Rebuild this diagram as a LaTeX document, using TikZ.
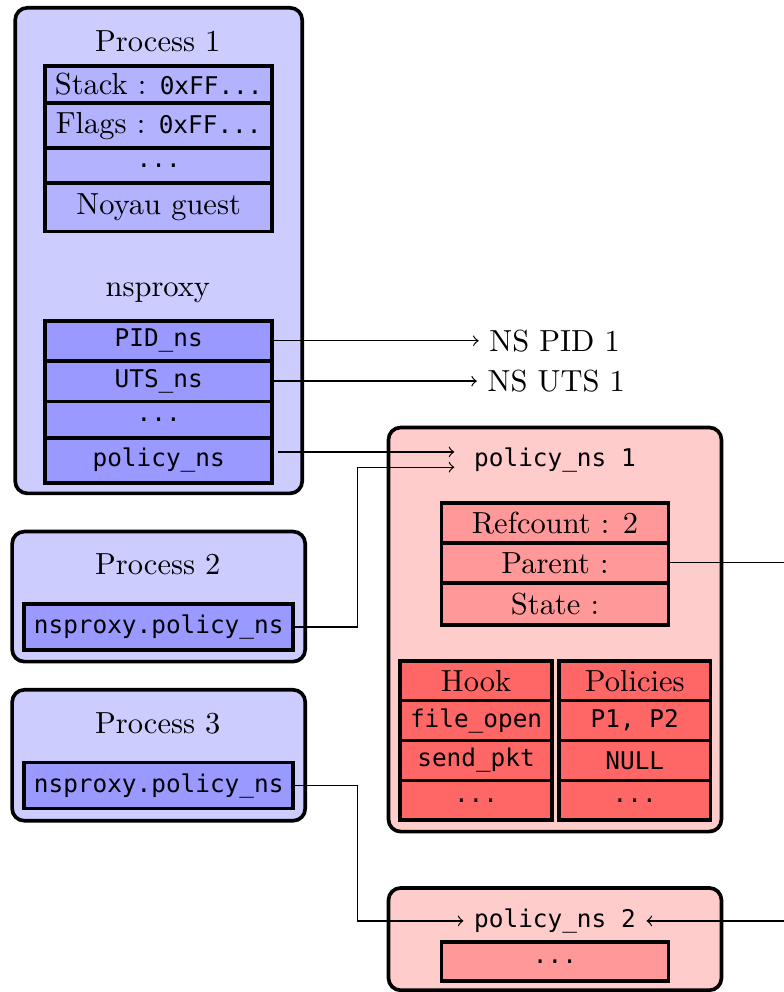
\documentclass[tikz,border=0pt]{standalone}
\usepackage{fontspec}
\setmonofont[Scale=0.8]{DejaVu Sans Mono}
\usetikzlibrary{positioning}

\tikzset{
  procbox/.style={draw, very thick, rounded corners, fill=blue!20},
  polbox/.style={draw, very thick, rounded corners, fill=red!20},
  cell/.style={draw, very thick, outer sep=0pt, inner sep=0pt},
  pcell/.style={cell, fill=blue!30, minimum width=2.62cm},
  nscell/.style={cell, fill=blue!40, minimum width=2.62cm},
  rcell/.style={cell, fill=red!40, minimum width=2.62cm},
  hcell/.style={cell, fill=red!60, minimum width=1.75cm, minimum height=0.46cm}
}

\begin{document}
\begin{tikzpicture}
\useasboundingbox (0,0) rectangle (9.04,-11.44);

% process 1
\node[procbox, minimum width=3.31cm, minimum height=5.60cm] (p1) at (1.83,-2.89) {};
\node (p1t) at (1.82,-0.48) {Process 1};
\node[pcell, minimum height=0.43cm, anchor=north] (stack) at (1.83,-0.76) {Stack : \texttt{0xFF...}};
\node[pcell, minimum height=0.52cm, below=0pt of stack] (flags) {Flags : \texttt{0xFF...}};
\node[pcell, minimum height=0.40cm, below=0pt of flags] (pdots) {\texttt{...}};
\node[pcell, minimum height=0.56cm, below=0pt of pdots] (kern) {Noyau guest};

\node (nsp) at (1.82,-3.38) {nsproxy};
\node[nscell, minimum height=0.46cm, anchor=north] (pid) at (1.83,-3.70) {\texttt{PID\_ns}};
\node[nscell, minimum height=0.47cm, below=0pt of pid] (uts) {\texttt{UTS\_ns}};
\node[nscell, minimum height=0.42cm, below=0pt of uts] (nsdots) {\texttt{...}};
\node[nscell, minimum height=0.52cm, below=0pt of nsdots] (pol) {\texttt{policy\_ns}};

\node[right=2.38cm of pid] (nspid) {NS PID 1};
\node[right=2.36cm of uts] (nsuts) {NS UTS 1};

% process 2 et 3
\node[procbox, minimum width=3.38cm, minimum height=1.50cm] (p2) at (1.83,-6.88) {};
\node (p2t) at (1.82,-6.51) {Process 2};
\node[nscell, minimum width=3.10cm, minimum height=0.53cm] (p2ns) at (1.83,-7.23) {\texttt{nsproxy.policy\_ns}};

\node[procbox, minimum width=3.38cm, minimum height=1.51cm] (p3) at (1.83,-8.71) {};
\node (p3t) at (1.82,-8.34) {Process 3};
\node[nscell, minimum width=3.10cm, minimum height=0.53cm] (p3ns) at (1.83,-9.06) {\texttt{nsproxy.policy\_ns}};

% policy_ns 1
\node[polbox, minimum width=3.84cm, minimum height=4.66cm] (pns1) at (6.40,-7.26) {};
\node (pns1t) at (6.40,-5.30) {\texttt{policy\_ns 1}};
\node[rcell, minimum height=0.46cm, anchor=north] (ref) at (6.40,-5.80) {Refcount : 2};
\node[rcell, minimum height=0.46cm, below=0pt of ref] (parent) {Parent :};
\node[rcell, minimum height=0.49cm, below=0pt of parent] (state) {State :};

\node[hcell, anchor=north] (hook) at (5.49,-7.62) {Hook};
\node[hcell, below=0pt of hook] (hk1) {\texttt{file\_open}};
\node[hcell, below=0pt of hk1] (hk2) {\texttt{send\_pkt}};
\node[hcell, below=0pt of hk2] (hk3) {\texttt{...}};
\node[hcell, anchor=north] (pols) at (7.32,-7.62) {Policies};
\node[hcell, below=0pt of pols] (pl1) {\texttt{P1, P2}};
\node[hcell, below=0pt of pl1] (pl2) {\texttt{NULL}};
\node[hcell, below=0pt of pl2] (pl3) {\texttt{...}};

% policy_ns 2
\node[polbox, minimum width=3.84cm, minimum height=1.18cm] (pns2) at (6.40,-10.83) {};
\node (pns2t) at (6.40,-10.62) {\texttt{policy\_ns 2}};
\node[rcell, minimum height=0.45cm] (pns2d) at (6.40,-11.09) {\texttt{...}};

% pointeurs
\coordinate (in1) at ([xshift=-3pt,yshift=2.5pt]pns1t.west);
\coordinate (in2) at ([xshift=-3pt,yshift=-2.5pt]pns1t.west);
\draw[->] (pid.east) -- (nspid);
\draw[->] (uts.east) -- (nsuts);
\draw[->] ([xshift=2pt]pol.east |- in1) -- (in1);
\draw[->] (p2ns.east) -- ++(0.74,0) |- (in2);
\draw[->] (p3ns.east) -- ++(0.74,0) |- (pns2t.west);
\draw[->] (parent.east) -- ++(1.6,0) |- (pns2t.east);

\end{tikzpicture}
\end{document}
